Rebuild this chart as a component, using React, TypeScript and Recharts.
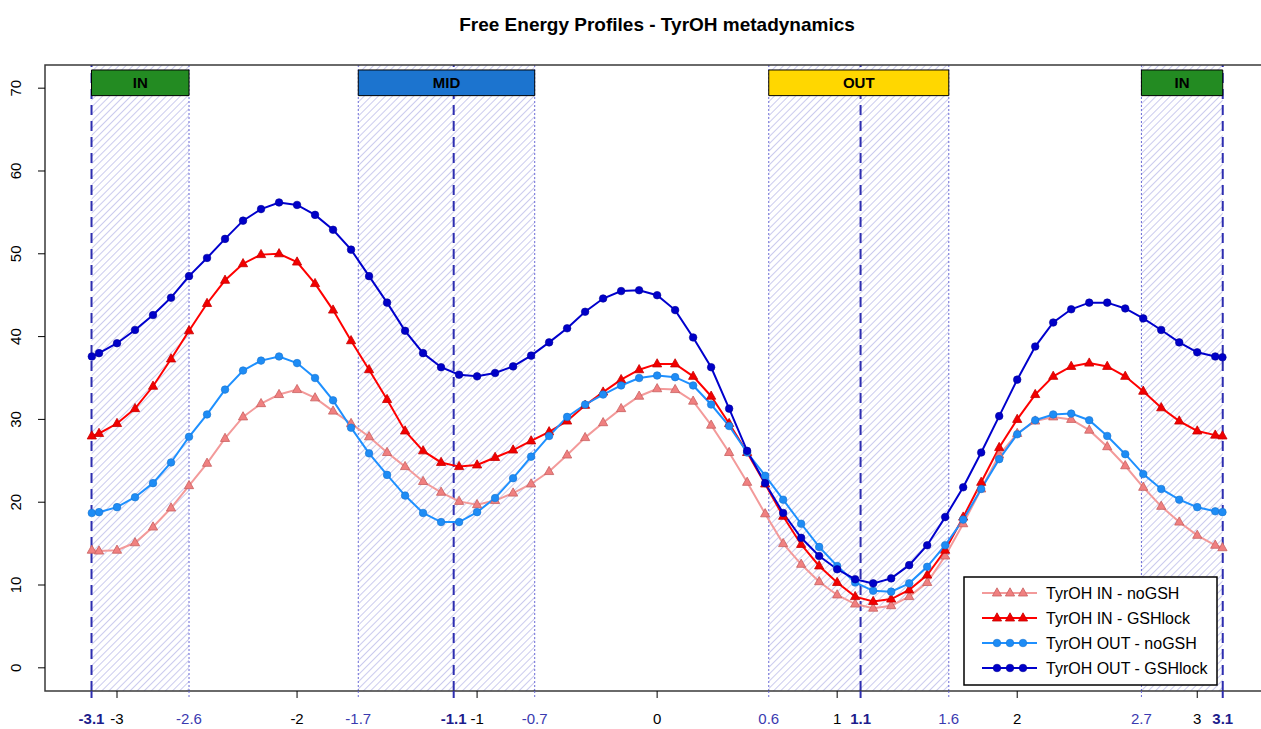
import { ComposedChart, Line, XAxis, YAxis, ReferenceArea, ReferenceLine } from "recharts";

// dihedral angle (rad)
const X_VALUES = [
  -3.14, -3.1, -3.0, -2.9, -2.8, -2.7, -2.6, -2.5, -2.4, -2.3,
  -2.2, -2.1, -2.0, -1.9, -1.8, -1.7, -1.6, -1.5, -1.4, -1.3,
  -1.2, -1.1, -1.0, -0.9, -0.8, -0.7, -0.6, -0.5, -0.4, -0.3,
  -0.2, -0.1, 0.0, 0.1, 0.2, 0.3, 0.4, 0.5, 0.6, 0.7,
  0.8, 0.9, 1.0, 1.1, 1.2, 1.3, 1.4, 1.5, 1.6, 1.7,
  1.8, 1.9, 2.0, 2.1, 2.2, 2.3, 2.4, 2.5, 2.6, 2.7,
  2.8, 2.9, 3.0, 3.1, 3.14,
];

const IN_NOGSH = [
  14.2, 14.1, 14.2, 15.1, 17.0, 19.3, 22.0, 24.7, 27.7, 30.3,
  31.9, 33.0, 33.6, 32.6, 31.0, 29.5, 27.9, 26.0, 24.3, 22.5,
  21.2, 20.1, 19.7, 20.2, 21.1, 22.2, 23.7, 25.7, 27.8, 29.6,
  31.3, 32.8, 33.7, 33.6, 32.2, 29.3, 26.0, 22.4, 18.6, 15.0,
  12.5, 10.4, 8.8, 7.7, 7.2, 7.5, 8.6, 10.3, 13.5, 17.4,
  21.6, 25.7, 28.3, 29.8, 30.3, 30.0, 28.7, 26.7, 24.4, 21.8,
  19.5, 17.6, 16.0, 14.8, 14.5,
];

const IN_GSHLOCK = [
  28.0, 28.3, 29.5, 31.3, 34.0, 37.3, 40.7, 44.0, 46.8, 48.8,
  49.9, 50.0, 49.0, 46.4, 43.2, 39.5, 36.0, 32.4, 28.6, 26.2,
  24.8, 24.3, 24.5, 25.4, 26.3, 27.4, 28.5, 29.8, 31.7, 33.3,
  34.8, 36.0, 36.7, 36.7, 35.2, 32.8, 29.5, 26.0, 22.2, 18.3,
  14.9, 12.3, 10.3, 8.6, 8.0, 8.3, 9.4, 11.2, 14.2, 18.2,
  22.4, 26.6, 30.0, 33.0, 35.2, 36.4, 36.8, 36.4, 35.2, 33.4,
  31.4, 29.8, 28.6, 28.1, 28.0,
];

const OUT_NOGSH = [
  18.7, 18.8, 19.4, 20.6, 22.3, 24.8, 27.9, 30.6, 33.6, 35.9,
  37.1, 37.6, 36.8, 35.0, 32.3, 29.0, 25.9, 23.3, 20.8, 18.7,
  17.6, 17.6, 18.8, 20.5, 22.9, 25.5, 28.0, 30.3, 31.8, 33.0,
  34.1, 35.0, 35.3, 35.1, 34.1, 31.8, 29.2, 26.0, 23.2, 20.3,
  17.4, 14.6, 12.3, 10.3, 9.3, 9.2, 10.2, 12.2, 14.8, 17.9,
  21.6, 25.2, 28.2, 29.9, 30.6, 30.7, 29.9, 28.0, 25.8, 23.4,
  21.6, 20.3, 19.4, 18.9, 18.8,
];

const OUT_GSHLOCK = [
  37.6, 38.0, 39.2, 40.8, 42.6, 44.7, 47.3, 49.5, 51.8, 54.0,
  55.4, 56.2, 55.9, 54.7, 52.9, 50.5, 47.3, 44.1, 40.7, 38.0,
  36.3, 35.4, 35.2, 35.6, 36.4, 37.7, 39.3, 41.0, 43.0, 44.6,
  45.5, 45.6, 45.0, 43.2, 39.9, 36.3, 31.3, 26.2, 22.3, 18.7,
  15.7, 13.5, 11.9, 10.7, 10.2, 10.8, 12.4, 14.8, 18.2, 21.8,
  26.0, 30.4, 34.8, 38.8, 41.7, 43.3, 44.1, 44.1, 43.4, 42.2,
  40.8, 39.3, 38.1, 37.6, 37.5,
];

const Y_TICKS = [0, 10, 20, 30, 40, 50, 60, 70];
const PLAIN_TICKS = [-3, -2, -1, 0, 1, 2, 3];
const BAND_TICKS = [-2.6, -1.66, -0.68, 0.62, 1.62, 2.69];
const BAND_TICK_LABELS = ["-2.6", "-1.7", "-0.7", "0.6", "1.6", "2.7"];
const SITE_TICKS = [-3.1416, -1.13, 1.13, 3.1416];
const SITE_TICK_LABELS = ["-3.1", "-1.1", "1.1", "3.1"];

const BAND_STARTS = [-3.1416, -1.66, 0.62, 2.69];
const BAND_ENDS = [-2.6, -0.68, 1.62, 3.1416];
const REGION_LABELS = ["IN", "MID", "OUT", "IN"];
const REGION_COLORS = ["#238b22", "#1c74cf", "#ffd700", "#238b22"];

const X_DOMAIN = [-3.4, 3.393];
const Y_DOMAIN = [-2.8, 72.8];

const SERIES = [
  { key: "inNo", name: "TyrOH IN - noGSH", line: "#f39a9a", fill: "#f08080", edge: "#c86060", shape: "tri" },
  { key: "inLock", name: "TyrOH IN - GSHlock", line: "#ff0000", fill: "#f20000", edge: "#c80000", shape: "tri" },
  { key: "outNo", name: "TyrOH OUT - noGSH", line: "#1e90ff", fill: "#1e8cf5", edge: "#1873d0", shape: "dot" },
  { key: "outLock", name: "TyrOH OUT - GSHlock", line: "#0000cd", fill: "#0000c8", edge: "#00009a", shape: "dot" },
];

const rows = X_VALUES.map((x, i) => ({
  x,
  inNo: IN_NOGSH[i],
  inLock: IN_GSHLOCK[i],
  outNo: OUT_NOGSH[i],
  outLock: OUT_GSHLOCK[i],
}));

const FONT = "'Liberation Sans', Arial, Helvetica, sans-serif";
const TICK_FONT = 15;

const triPath = (cx: number, cy: number) =>
  `M${cx},${cy - 5.2} L${cx + 4.6},${cy + 3} L${cx - 4.6},${cy + 3} Z`;

const makeDot = (s: any) => (props: any) => {
  const { cx, cy, index } = props;
  if (cx == null || cy == null) return <g key={index} />;
  if (s.shape === "tri") {
    return <path key={index} d={triPath(cx, cy)} fill={s.fill} stroke={s.edge} strokeWidth={0.8} />;
  }
  return <circle key={index} cx={cx} cy={cy} r={3.8} fill={s.fill} stroke={s.edge} strokeWidth={0.6} />;
};

const near = (a: number, b: number) => Math.abs(a - b) < 1e-6;

const XTick = (props: any) => {
  const { x, y, payload } = props;
  const v = payload.value;
  let label = String(v);
  let color = "#000";
  let weight = "normal";
  let tickStroke = "#000";
  let tickWidth = 1;
  let dash: string | undefined;
  const b = BAND_TICKS.findIndex((t) => near(t, v));
  const s = SITE_TICKS.findIndex((t) => near(t, v));
  if (b >= 0) {
    label = BAND_TICK_LABELS[b];
    color = "#3a3ab0";
    tickStroke = "#6b6bd6";
    dash = "2 2";
  } else if (s >= 0) {
    label = SITE_TICK_LABELS[s];
    color = "#1c1c8c";
    weight = "bold";
    tickStroke = "#2e2eb0";
    tickWidth = 2;
  }
  return (
    <g>
      <line x1={x} x2={x} y1={y} y2={y + 7} stroke={tickStroke} strokeWidth={tickWidth} strokeDasharray={dash} />
      <text x={x} y={y + 33} textAnchor="middle" fill={color} fontWeight={weight} fontSize={TICK_FONT} fontFamily={FONT}>
        {label}
      </text>
    </g>
  );
};

const YTick = (props: any) => {
  const { x, y, payload } = props;
  return (
    <g>
      <line x1={x} x2={x - 7} y1={y} y2={y} stroke="#000" strokeWidth={1} />
      <text
        x={x - 24}
        y={y}
        transform={`rotate(-90, ${x - 24}, ${y})`}
        textAnchor="middle"
        fill="#000"
        fontSize={TICK_FONT}
        fontFamily={FONT}
      >
        {payload.value}
      </text>
    </g>
  );
};

const LEGEND_ROWS = [593, 618, 643, 668];

export default function App() {
  return (
    <div
      style={{
        position: "absolute",
        left: 0,
        top: 0,
        width: 1261,
        height: 729,
        overflow: "hidden",
        background: "#fff",
        fontFamily: FONT,
      }}
    >
      <svg width={0} height={0} style={{ position: "absolute" }}>
        <defs>
          <pattern id="hatch" patternUnits="userSpaceOnUse" width={5} height={5} patternTransform="rotate(45)">
            <line x1={0} y1={0} x2={0} y2={5} stroke="#a8a8e2" strokeWidth={1.2} />
          </pattern>
        </defs>
      </svg>

      <ComposedChart
        width={1275}
        height={729}
        data={rows}
        margin={{ top: 65, right: 7, bottom: 0, left: 0 }}
      >
        <XAxis
          type="number"
          dataKey="x"
          domain={X_DOMAIN}
          allowDataOverflow
          ticks={[...PLAIN_TICKS, ...BAND_TICKS, ...SITE_TICKS].sort((a, b) => a - b)}
          interval={0}
          height={38}
          tickSize={0}
          tickMargin={0}
          axisLine={false}
          tickLine={false}
          tick={XTick}
        />
        <YAxis
          type="number"
          domain={Y_DOMAIN}
          allowDataOverflow
          ticks={Y_TICKS}
          interval={0}
          width={45}
          tickSize={0}
          tickMargin={0}
          axisLine={false}
          tickLine={false}
          tick={YTick}
        />

        {BAND_STARTS.map((x1, i) => (
          <ReferenceArea
            key={`band-${i}`}
            x1={x1}
            x2={BAND_ENDS[i]}
            y1={Y_DOMAIN[0]}
            y2={Y_DOMAIN[1]}
            fill="url(#hatch)"
            fillOpacity={1}
            stroke="none"
            zIndex={10}
          />
        ))}

        {BAND_TICKS.map((x) => (
          <ReferenceLine key={`edge-${x}`} x={x} stroke="#6b6bd6" strokeWidth={1} strokeDasharray="2 2" zIndex={20} />
        ))}

        {SITE_TICKS.map((x) => (
          <ReferenceLine key={`site-${x}`} x={x} stroke="#2e2eb0" strokeWidth={2} strokeDasharray="10 6" zIndex={30} />
        ))}

        {BAND_STARTS.map((x1, i) => (
          <ReferenceArea
            key={`region-${i}`}
            x1={x1}
            x2={BAND_ENDS[i]}
            y1={69.1}
            y2={72.2}
            fill={REGION_COLORS[i]}
            fillOpacity={1}
            stroke="#000"
            strokeWidth={1}
            zIndex={40}
            label={{ value: REGION_LABELS[i], position: "center", fill: "#000", fontWeight: "bold", fontSize: 15, fontFamily: FONT }}
          />
        ))}

        {SERIES.map((s) => (
          <Line
            key={s.key}
            type="linear"
            dataKey={s.key}
            name={s.name}
            stroke={s.line}
            strokeWidth={2}
            dot={makeDot(s)}
            activeDot={false}
            isAnimationActive={false}
          />
        ))}

        <ReferenceArea
          x1={X_DOMAIN[0]}
          x2={X_DOMAIN[1]}
          y1={Y_DOMAIN[0]}
          y2={Y_DOMAIN[1]}
          fill="none"
          stroke="#3a3a3a"
          strokeWidth={1.5}
          zIndex={500}
        />
      </ComposedChart>

      <svg width={1261} height={729} style={{ position: "absolute", left: 0, top: 0, pointerEvents: "none" }}>
        <text x={657} y={31} textAnchor="middle" fontWeight="bold" fontSize={19} fontFamily={FONT} fill="#000">
          Free Energy Profiles - TyrOH metadynamics
        </text>
        <rect x={964} y={577} width={253} height={108} fill="#fff" stroke="#000" strokeWidth={1.5} />
        {SERIES.map((s, i) => {
          const cy = LEGEND_ROWS[i];
          return (
            <g key={s.key}>
              <line x1={982} x2={1037} y1={cy} y2={cy} stroke={s.line} strokeWidth={2} />
              {[997, 1010, 1023].map((cx) =>
                s.shape === "tri" ? (
                  <path key={cx} d={triPath(cx, cy)} fill={s.fill} stroke={s.edge} strokeWidth={0.8} />
                ) : (
                  <circle key={cx} cx={cx} cy={cy} r={3.8} fill={s.fill} stroke={s.edge} strokeWidth={0.6} />
                )
              )}
              <text x={1046} y={cy + 5.5} fontSize={16} fontFamily={FONT} fill="#000">
                {s.name}
              </text>
            </g>
          );
        })}
      </svg>
    </div>
  );
}
